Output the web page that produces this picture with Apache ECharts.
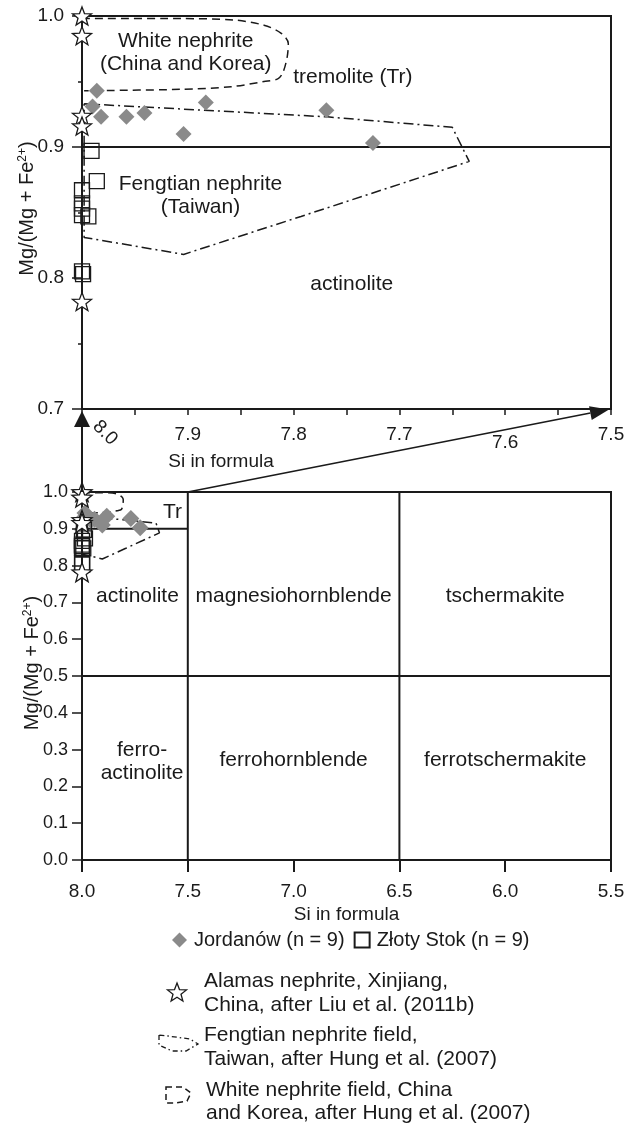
<!DOCTYPE html>
<html><head><meta charset="utf-8">
<script src="https://cdn.jsdelivr.net/npm/echarts@6/dist/echarts.min.js"></script>
<style>html,body{margin:0;padding:0;background:#fff}#c{width:631px;height:1125px}</style>
</head><body><div id="c"></div>
<script>
// ---------------- data ----------------
const jordanowSi = [7.986, 7.990, 7.982, 7.958, 7.941, 7.904, 7.883, 7.769, 7.725];
const jordanowMg = [0.943, 0.931, 0.923, 0.923, 0.926, 0.910, 0.934, 0.928, 0.903];

const zlotySi = [7.991, 7.986, 8.000, 8.000, 8.000, 8.000, 7.994, 8.000, 7.999];
const zlotyMg = [0.897, 0.874, 0.867, 0.857, 0.853, 0.848, 0.847, 0.805, 0.803];

const alamasSi = [8.000, 8.000, 8.000, 8.000, 8.000];
const alamasMg = [1.000, 0.985, 0.924, 0.916, 0.782];

const whiteFieldSi = [8.000, 7.907, 7.857, 7.828, 7.812, 7.805, 7.806, 7.810, 7.815, 7.828, 7.859, 7.907, 7.998];
const whiteFieldMg = [0.998, 0.998, 0.997, 0.993, 0.987, 0.979, 0.969, 0.957, 0.952, 0.950, 0.946, 0.944, 0.943];

const fengtianFieldSi = [7.998, 7.768, 7.650, 7.634, 7.793, 7.904, 7.998, 7.998];
const fengtianFieldMg = [0.933, 0.923, 0.915, 0.889, 0.847, 0.818, 0.831, 0.933];

// classification boundaries [Si1, Mg1, Si2, Mg2]
const topBoundaries = [[8.0, 0.9, 7.5, 0.9]];
const bottomBoundaries = [[7.5, 0.0, 7.5, 1.0], [6.5, 0.0, 6.5, 1.0], [8.0, 0.5, 5.5, 0.5], [8.0, 0.9, 7.5, 0.9]];

// field names and their anchors (Si, Mg)
const topLabelText = ['White nephrite\n(China and Korea)', 'tremolite (Tr)', 'Fengtian nephrite\n(Taiwan)', 'actinolite'];
const topLabelSi = [7.902, 7.744, 7.888, 7.745];
const topLabelMg = [0.972, 0.953, 0.863, 0.795];
const bottomLabelText = ['Tr', 'actinolite', 'magnesiohornblende', 'tschermakite', 'ferro-\nactinolite', 'ferrohornblende', 'ferrotschermakite'];
const bottomLabelSi = [7.572, 7.738, 7.0, 6.0, 7.716, 7.0, 6.0];
const bottomLabelMg = [0.946, 0.716, 0.716, 0.716, 0.267, 0.272, 0.272];

// axis ranges / ticks
const topSiTicks = ['7.5', '7.6', '7.7', '7.8', '7.9', '8.0'];
const topMgTicks = ['0.7', '0.8', '0.9', '1.0'];
const bottomSiTicks = ['5.5', '6.0', '6.5', '7.0', '7.5', '8.0'];
const bottomMgTicks = ['0.0', '0.1', '0.2', '0.3', '0.4', '0.5', '0.6', '0.7', '0.8', '0.9', '1.0'];

const nameJ = 'Jordanów (n = 9)';
const nameZ = 'Złoty Stok (n = 9)';
const legendAlamas = 'Alamas nephrite, Xinjiang,\nChina, after Liu et al. (2011b)';
const legendFengtian = 'Fengtian nephrite field,\nTaiwan, after Hung et al. (2007)';
const legendWhite = 'White nephrite field, China\nand Korea, after Hung et al. (2007)';
const siTitle = 'Si in formula';

// ---------------- helpers ----------------
const FONT = '"Liberation Sans", Arial, Helvetica, sans-serif';
const INK = '#1a1a1a';
const GREY = '#8a8a8a';
const pts = (xs, ys) => xs.map((x, i) => [x, ys[i]]);
function starPoints(cx, cy, R, r) {
  const p = [];
  for (let k = 0; k < 10; k++) {
    const a = -Math.PI / 2 + k * Math.PI / 5;
    const rad = k % 2 ? r : R;
    p.push([cx + rad * Math.cos(a), cy + rad * Math.sin(a)]);
  }
  return p;
}
const starPath = 'path://' + starPoints(50, 50, 50, 21).map((p, i) => (i ? 'L' : 'M') + p[0].toFixed(2) + ',' + p[1].toFixed(2)).join(' ') + ' Z';
const tickFmt = (labels, lo, step) => v => labels[Math.round((v - lo) / step)] || '';

function panelSeries(g, diamondSize, squareSize, starSize, boundaries, labelText, labelSi, labelMg) {
  const s = [];
  boundaries.forEach(b => s.push({
    type: 'line', xAxisIndex: g, yAxisIndex: g, data: [[b[0], b[1]], [b[2], b[3]]],
    symbol: 'none', silent: true, clip: false, z: 3,
    lineStyle: { color: INK, width: 2 }
  }));
  s.push({
    type: 'line', xAxisIndex: g, yAxisIndex: g, data: pts(whiteFieldSi, whiteFieldMg),
    symbol: 'none', smooth: 0.3, silent: true, clip: false, z: 3,
    lineStyle: { color: INK, width: 1.5, type: [8, 5] }
  });
  s.push({
    type: 'line', xAxisIndex: g, yAxisIndex: g, data: pts(fengtianFieldSi, fengtianFieldMg),
    symbol: 'none', silent: true, clip: false, z: 3,
    lineStyle: { color: INK, width: 1.5, type: [10, 4, 2, 4] }
  });
  s.push({
    type: 'scatter', name: nameJ, xAxisIndex: g, yAxisIndex: g, data: pts(jordanowSi, jordanowMg),
    symbol: 'diamond', symbolSize: diamondSize, clip: false, z: 4,
    itemStyle: { color: GREY, opacity: 1 }
  });
  s.push({
    type: 'scatter', name: nameZ, xAxisIndex: g, yAxisIndex: g, data: pts(zlotySi, zlotyMg),
    symbol: 'rect', symbolSize: squareSize, clip: false, z: 5,
    itemStyle: { color: 'rgba(255,255,255,0)', borderColor: INK, borderWidth: 1.3, opacity: 1 }
  });
  s.push({
    type: 'scatter', name: 'Alamas', xAxisIndex: g, yAxisIndex: g, data: pts(alamasSi, alamasMg),
    symbol: starPath, symbolKeepAspect: true, symbolSize: starSize, clip: false, z: 6,
    itemStyle: { color: '#fff', borderColor: INK, borderWidth: 1.3, opacity: 1 }
  });
  s.push({
    type: 'scatter', xAxisIndex: g, yAxisIndex: g, silent: true, clip: false, z: 7,
    data: labelText.map((t, i) => ({ name: t, value: [labelSi[i], labelMg[i]] })),
    symbolSize: 1, itemStyle: { color: 'rgba(0,0,0,0)', opacity: 1 },
    label: { show: true, position: 'inside', formatter: p => p.name, fontSize: 21, lineHeight: 23, color: INK, opacity: 1, fontFamily: FONT, align: 'center', textBorderWidth: 0 }
  });
  return s;
}

const axisLineStyle = { color: INK, width: 2 };
const tickStyle = { color: INK, width: 1.5 };
const supRich = { sup: { fontSize: 12, verticalAlign: 'top', fontFamily: FONT, color: INK } };

const chart = echarts.init(document.getElementById('c'), null, { renderer: 'canvas' });
const option = {
  animation: false,
  backgroundColor: '#fff',
  textStyle: { fontFamily: FONT, color: INK },
  grid: [
    { left: 82, top: 16, width: 529, height: 393, show: true, borderColor: INK, borderWidth: 2, backgroundColor: 'transparent' },
    { left: 82, top: 492, width: 529, height: 368, show: true, borderColor: INK, borderWidth: 2, backgroundColor: 'transparent' }
  ],
  xAxis: [
    {
      gridIndex: 0, type: 'value', min: 7.5, max: 8.0, interval: 0.1, inverse: true,
      axisLine: { onZero: false, lineStyle: axisLineStyle },
      axisTick: { length: 6, lineStyle: tickStyle },
      minorTick: { show: true, splitNumber: 2, length: 6, lineStyle: tickStyle },
      splitLine: { show: false },
      axisLabel: {
        fontSize: 19, color: INK, margin: 16, showMaxLabel: true, showMinLabel: true,
        formatter: v => {
          const t = tickFmt(topSiTicks, 7.5, 0.1)(v);
          if (t === '8.0') return '';
          if (t === '7.6') return '{low|' + t + '}';
          return t;
        },
        rich: { low: { padding: [8, 0, 0, 0], fontSize: 19, fontFamily: FONT, color: INK } }
      }
    },
    {
      gridIndex: 1, type: 'value', min: 5.5, max: 8.0, interval: 0.5, inverse: true,
      axisLine: { onZero: false, lineStyle: axisLineStyle },
      axisTick: { length: 12, lineStyle: { color: INK, width: 2 } },
      splitLine: { show: false },
      axisLabel: { fontSize: 19, color: INK, margin: 22, formatter: tickFmt(bottomSiTicks, 5.5, 0.5) },
      name: siTitle, nameLocation: 'middle', nameGap: 45, nameMoveOverlap: false,
      nameTextStyle: { fontSize: 19, color: INK, fontFamily: FONT }
    }
  ],
  yAxis: [
    {
      gridIndex: 0, type: 'value', min: 0.7, max: 1.0, interval: 0.1,
      axisLine: { onZero: false, lineStyle: axisLineStyle },
      axisTick: { length: 10, lineStyle: tickStyle },
      minorTick: { show: true, splitNumber: 2, length: 4, lineStyle: tickStyle },
      splitLine: { show: false },
      axisLabel: { fontSize: 19, color: INK, margin: 18, formatter: tickFmt(topMgTicks, 0.7, 0.1) },
      name: 'Mg/(Mg + Fe{sup|2+})', nameLocation: 'middle', nameGap: 45, nameRotate: 90, nameMoveOverlap: false,
      nameTextStyle: { fontSize: 20, color: INK, fontFamily: FONT, padding: [0, 0, 0, 8], rich: supRich }
    },
    {
      gridIndex: 1, type: 'value', min: 0.0, max: 1.0, interval: 0.1,
      axisLine: { onZero: false, lineStyle: axisLineStyle },
      axisTick: { length: 10, lineStyle: tickStyle },
      splitLine: { show: false },
      axisLabel: { fontSize: 18, color: INK, margin: 14, formatter: tickFmt(bottomMgTicks, 0.0, 0.1) },
      name: 'Mg/(Mg + Fe{sup|2+})', nameLocation: 'middle', nameGap: 40, nameRotate: 90, nameMoveOverlap: false,
      nameTextStyle: { fontSize: 20, color: INK, fontFamily: FONT, padding: [0, 0, 0, 26], rich: supRich }
    }
  ],
  legend: {
    data: [nameJ, nameZ], left: 167, top: 925, orient: 'horizontal',
    itemWidth: 15, itemHeight: 15, itemGap: 9, selectedMode: false,
    textStyle: { fontSize: 20, color: INK, fontFamily: FONT, padding: [0, 0, 0, 2] }
  },
  series: [].concat(
    panelSeries(0, 16, 15, 19, topBoundaries, topLabelText, topLabelSi, topLabelMg),
    panelSeries(1, 17, 15, 20, bottomBoundaries, bottomLabelText, bottomLabelSi, bottomLabelMg)
  )
};
chart.setOption(option);

// ---- connectors between the two panels, extra labels and lower legend ----
const botTL = chart.convertToPixel({ gridIndex: 1 }, [8.0, 1.0]);
const topBL = chart.convertToPixel({ gridIndex: 0 }, [8.0, 0.7]);
const bot75 = chart.convertToPixel({ gridIndex: 1 }, [7.5, 1.0]);
const topBR = chart.convertToPixel({ gridIndex: 0 }, [7.5, 0.7]);

const up = { tipX: topBL[0], tipY: topBL[1] + 2, len: 16, half: 8 };
const dx = topBR[0] - bot75[0], dy = topBR[1] - bot75[1];
const L = Math.hypot(dx, dy), ux = dx / L, uy = dy / L;
const tip = [topBR[0] - ux * 2, topBR[1] - uy * 2];
const aLen = 19, aHalf = 7;
const base = [tip[0] - ux * aLen, tip[1] - uy * aLen];
const head = [tip, [base[0] - uy * aHalf, base[1] + ux * aHalf], [base[0] + uy * aHalf, base[1] - ux * aHalf]];

const legendText = { fontSize: 21, lineHeight: 24, fontFamily: FONT, fill: INK, align: 'left', verticalAlign: 'middle' };
const graphics = [
  { type: 'line', shape: { x1: botTL[0], y1: botTL[1], x2: up.tipX, y2: up.tipY + up.len - 1 }, style: { stroke: INK, lineWidth: 2 }, z: 10 },
  { type: 'polygon', shape: { points: [[up.tipX, up.tipY], [up.tipX - up.half, up.tipY + up.len], [up.tipX + up.half, up.tipY + up.len]] }, style: { fill: INK }, z: 10 },
  { type: 'line', shape: { x1: bot75[0], y1: bot75[1], x2: base[0], y2: base[1] }, style: { stroke: INK, lineWidth: 1.6 }, z: 10 },
  { type: 'polygon', shape: { points: head }, style: { fill: INK }, z: 10 },
  { type: 'text', x: topBL[0] + 23, y: topBL[1] + 24, rotation: -Math.PI / 4, z: 10,
    style: { text: topSiTicks[5], fontSize: 19, fontFamily: FONT, fill: INK, align: 'center', verticalAlign: 'middle' } },
  { type: 'text', x: 221, y: 462, z: 10,
    style: { text: siTitle, fontSize: 19, fontFamily: FONT, fill: INK, align: 'center', verticalAlign: 'middle' } },
  // lower legend
  { type: 'polygon', shape: { points: starPoints(177, 993, 10, 4.2) }, style: { fill: '#fff', stroke: INK, lineWidth: 1.3 }, z: 10 },
  { type: 'text', x: 204, y: 993, z: 10, style: Object.assign({ text: legendAlamas }, legendText) },
  { type: 'polygon', shape: { points: [[159, 1035], [159, 1045], [172, 1051], [186, 1051], [198, 1044], [190, 1039], [168, 1036]] },
    style: { fill: null, stroke: INK, lineWidth: 1.3, lineDash: [5, 3, 1.5, 3] }, z: 10 },
  { type: 'text', x: 204, y: 1047, z: 10, style: Object.assign({ text: legendFengtian }, legendText) },
  { type: 'polygon', shape: { points: [[166, 1087], [183, 1087], [191, 1093], [187, 1101], [176, 1103], [166, 1103]] },
    style: { fill: null, stroke: INK, lineWidth: 1.5, lineDash: [6, 4] }, z: 10 },
  { type: 'text', x: 206, y: 1102, z: 10, style: Object.assign({ text: legendWhite }, legendText, { lineHeight: 23 }) }
];
chart.setOption({ graphic: graphics });
</script>
</body></html>
